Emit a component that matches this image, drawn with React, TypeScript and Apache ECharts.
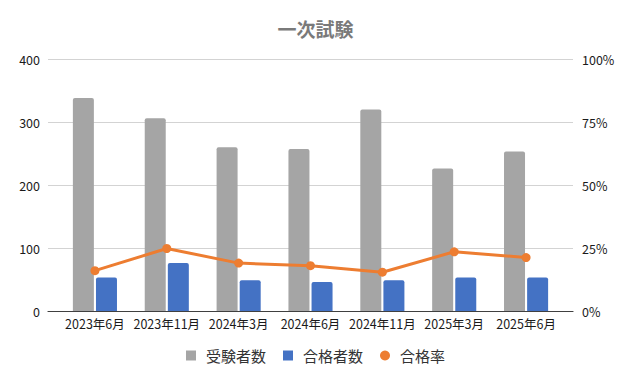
import React, { useEffect, useRef } from "react";
import * as echarts from "echarts";

const categories = ["2023年6月", "2023年11月", "2024年3月", "2024年6月", "2024年11月", "2025年3月", "2025年6月"];
const examinees = [338, 306, 260, 257, 320, 226, 253];
const passers = [53, 76, 49, 46, 49, 53, 53];
const passRate = [0.16, 0.248, 0.19, 0.18, 0.154, 0.235, 0.212];
const leftTicks = [0, 100, 200, 300, 400];
const rightTicks = ["0%", "25%", "50%", "75%", "100%"];

const FONT = "'Noto Sans CJK JP', 'Noto Sans', sans-serif";

export default function App() {
  const ref = useRef<HTMLDivElement>(null);
  useEffect(() => {
    document.body.style.margin = "0";
    const chart = echarts.init(ref.current!, null, { renderer: "svg" });
    chart.setOption({
      animation: false,
      textStyle: { fontFamily: FONT },
      title: {
        text: "一次試験",
        left: "center",
        top: 14,
        textStyle: { fontSize: 19, fontWeight: "bold", color: "#7a7a7a", fontFamily: FONT },
      },
      legend: {
        left: "center",
        top: 343,
        itemWidth: 10,
        itemHeight: 10,
        itemGap: 17,
        textStyle: { fontSize: 15, color: "#333333", fontFamily: FONT, padding: [0, 0, 0, 5] },
        data: [
          { name: "受験者数", icon: "rect" },
          { name: "合格者数", icon: "rect" },
          { name: "合格率", icon: "circle" },
        ],
      },
      grid: [
        { left: 48, right: 58, top: 59, bottom: 70 },
        { left: 59, right: 69, top: 59, bottom: 70 },
      ],
      xAxis: [
        {
          gridIndex: 0,
          type: "value",
          min: 0,
          max: 1,
          axisLine: { show: true, lineStyle: { color: "#404040", width: 1.2 } },
          axisTick: { show: false },
          axisLabel: { show: false },
          splitLine: { show: false },
        },
        {
          gridIndex: 1,
          type: "category",
          data: categories,
          axisLine: { show: false },
          axisTick: { show: false },
          axisLabel: { margin: 6, fontSize: 12.5, color: "#1a1a1a", fontFamily: FONT, interval: 0 },
        },
      ],
      yAxis: [
        {
          gridIndex: 0,
          type: "value",
          min: leftTicks[0],
          max: leftTicks[leftTicks.length - 1],
          interval: 100,
          position: "left",
          axisLine: { show: false },
          axisTick: { show: false },
          axisLabel: { margin: 8, fontSize: 12.5, color: "#1a1a1a", fontFamily: FONT },
          splitLine: { show: true, lineStyle: { color: "#d3d3d3", width: 1 } },
        },
        {
          gridIndex: 0,
          type: "value",
          min: 0,
          max: 1,
          interval: 0.25,
          position: "right",
          axisLine: { show: false },
          axisTick: { show: false },
          axisLabel: {
            margin: 9,
            fontSize: 12.5,
            color: "#1a1a1a",
            fontFamily: FONT,
            formatter: (v: number) => rightTicks[Math.round(v / 0.25)],
          },
          splitLine: { show: false },
        },
        { gridIndex: 1, type: "value", min: 0, max: 400, show: false },
        { gridIndex: 1, type: "value", min: 0, max: 1, show: false },
      ],
      series: [
        {
          name: "受験者数",
          type: "bar",
          xAxisIndex: 1,
          yAxisIndex: 2,
          data: examinees,
          barWidth: 21,
          barGap: "10%",
          itemStyle: { color: "#a5a5a5", borderRadius: [2, 2, 0, 0] },
        },
        {
          name: "合格者数",
          type: "bar",
          xAxisIndex: 1,
          yAxisIndex: 2,
          data: passers,
          barWidth: 21,
          barGap: "10%",
          itemStyle: { color: "#4472c4", borderRadius: [2, 2, 0, 0] },
        },
        {
          name: "合格率",
          type: "line",
          xAxisIndex: 1,
          yAxisIndex: 3,
          data: passRate,
          symbol: "circle",
          symbolSize: 9,
          lineStyle: { color: "#ed7d31", width: 3 },
          itemStyle: { color: "#ed7d31" },
          z: 5,
        },
      ],
    });
    return () => chart.dispose();
  }, []);
  return <div ref={ref} style={{ width: 631, height: 381 }} />;
}
